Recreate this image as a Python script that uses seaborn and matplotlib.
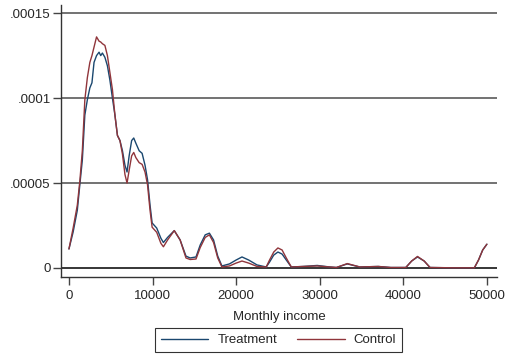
import matplotlib
matplotlib.use('Agg')
import matplotlib.pyplot as plt
import seaborn as sns
import numpy as np
import pandas as pd

# kernel density estimates
income = [0, 500, 1000, 1300, 1600, 1900, 2200, 2500, 2750, 3000, 3300, 3600, 3800,
          4000, 4300, 4600, 4900, 5200, 5500, 5800, 6100, 6400, 6700, 6950, 7200,
          7500, 7750, 8000, 8400, 8750, 9100, 9400, 9700, 9950, 10500, 11000, 11300,
          11800, 12600, 13300, 14000, 14500, 15200, 15700, 16300, 16800, 17300, 17800,
          18300, 19200, 20000, 20700, 21500, 22500, 23600, 24000, 24500, 25000, 25500,
          26000, 26600, 28000, 29700, 31200, 32000, 33300, 34800, 37000, 38500, 40300,
          41000, 41700, 42500, 43200, 46000, 48500, 49000, 49500, 50000]

treatment = [1.12e-5, 2.12e-5, 3.4e-5, 4.9e-5, 6.35e-5, 9.0e-5, 9.9e-5, 1.06e-4, 1.09e-4,
             1.21e-4, 1.25e-4, 1.27e-4, 1.25e-4, 1.265e-4, 1.24e-4, 1.19e-4, 1.105e-4,
             1.0e-4, 9.0e-5, 7.8e-5, 7.5e-5, 6.9e-5, 6.05e-5, 5.65e-5, 6.6e-5, 7.5e-5,
             7.65e-5, 7.35e-5, 6.9e-5, 6.75e-5, 6.05e-5, 5.2e-5, 3.7e-5, 2.65e-5, 2.35e-5,
             1.75e-5, 1.5e-5, 1.8e-5, 2.2e-5, 1.65e-5, 7.0e-6, 5.9e-6, 6.5e-6, 1.35e-5,
             1.95e-5, 2.05e-5, 1.65e-5, 7.0e-6, 1.2e-6, 2.4e-6, 4.7e-6, 6.5e-6, 4.7e-6,
             1.8e-6, 6e-7, 3.5e-6, 7.6e-6, 9.4e-6, 8.2e-6, 4.7e-6, 6e-7, 9e-7, 1.5e-6,
             6e-7, 3e-7, 2.4e-6, 6e-7, 9e-7, 3e-7, 3e-7, 4.1e-6, 6.5e-6, 4.1e-6, 3e-7,
             1e-7, 1e-7, 4.7e-6, 1.06e-5, 1.4e-5]

control = [1.12e-5, 2.35e-5, 3.7e-5, 5.1e-5, 6.9e-5, 9.9e-5, 1.12e-4, 1.21e-4, 1.25e-4,
           1.30e-4, 1.36e-4, 1.335e-4, 1.33e-4, 1.32e-4, 1.31e-4, 1.25e-4, 1.15e-4,
           1.05e-4, 9.0e-5, 7.8e-5, 7.5e-5, 6.7e-5, 5.5e-5, 5.0e-5, 5.75e-5, 6.6e-5,
           6.8e-5, 6.5e-5, 6.2e-5, 6.1e-5, 5.65e-5, 4.9e-5, 3.4e-5, 2.4e-5, 2.1e-5,
           1.45e-5, 1.25e-5, 1.65e-5, 2.2e-5, 1.65e-5, 5.9e-6, 5.0e-6, 5.3e-6, 1.2e-5,
           1.8e-5, 1.95e-5, 1.5e-5, 5.9e-6, 6e-7, 1.2e-6, 2.9e-6, 4.1e-6, 2.9e-6,
           9e-7, 6e-7, 4.7e-6, 9.4e-6, 1.18e-5, 1.06e-5, 5.9e-6, 6e-7, 9e-7, 1.2e-6,
           6e-7, 3e-7, 2.6e-6, 6e-7, 9e-7, 3e-7, 3e-7, 4.1e-6, 6.8e-6, 4.1e-6, 3e-7,
           1e-7, 1e-7, 4.7e-6, 1.06e-5, 1.4e-5]

y_ticks = [0, 0.00005, 0.0001, 0.00015]
y_tick_labels = ['0', '.00005', '.0001', '.00015']
x_ticks = [0, 10000, 20000, 30000, 40000, 50000]

df = pd.concat([
    pd.DataFrame({'income': income, 'density': treatment, 'group': 'Treatment'}),
    pd.DataFrame({'income': income, 'density': control, 'group': 'Control'}),
])

sns.set_style('white')
plt.rcParams['font.family'] = ['Liberation Sans', 'DejaVu Sans']

fig = plt.figure(figsize=(5.08, 3.54), dpi=100)
ax = fig.add_axes([0.120, 0.2175, 0.858, 0.768])

sns.lineplot(data=df, x='income', y='density', hue='group', ax=ax,
             palette={'Treatment': '#1a476f', 'Control': '#90353b'},
             linewidth=1.0, sort=False)

ax.set_xlim(-957, 51190)
ax.set_ylim(-5.3e-6, 1.547e-4)
ax.set_yticks(y_ticks)
ax.set_yticklabels(y_tick_labels)
ax.set_xticks(x_ticks)
ax.set_xticklabels([str(t) for t in x_ticks])
ax.tick_params(axis='both', labelsize=9.5, length=6, width=1, color='#444444',
               direction='out', left=True, bottom=True)
ax.tick_params(axis='y', pad=1.5)

for y in y_ticks[1:]:
    ax.axhline(y, color='#5a5a5a', linewidth=1.2, zorder=0)
ax.axhline(0, color='black', linewidth=1.1, zorder=0)

for side in ['top', 'right']:
    ax.spines[side].set_visible(False)
for side in ['left', 'bottom']:
    ax.spines[side].set_color('#333333')
    ax.spines[side].set_linewidth(1.0)

ax.set_xlabel('Monthly income', fontsize=9.5, labelpad=6)
ax.set_ylabel('')

sns.move_legend(ax, 'upper center', bbox_to_anchor=(278.5 / 508, 1 - 328 / 354),
                bbox_transform=fig.transFigure, ncol=2, title=None, frameon=True,
                fontsize=9.5, handlelength=3.6, handletextpad=0.7, columnspacing=1.5,
                borderpad=0.45, borderaxespad=0, fancybox=False, edgecolor='black')
ax.get_legend().get_frame().set_linewidth(0.8)

fig.savefig('out.png', dpi=100)
